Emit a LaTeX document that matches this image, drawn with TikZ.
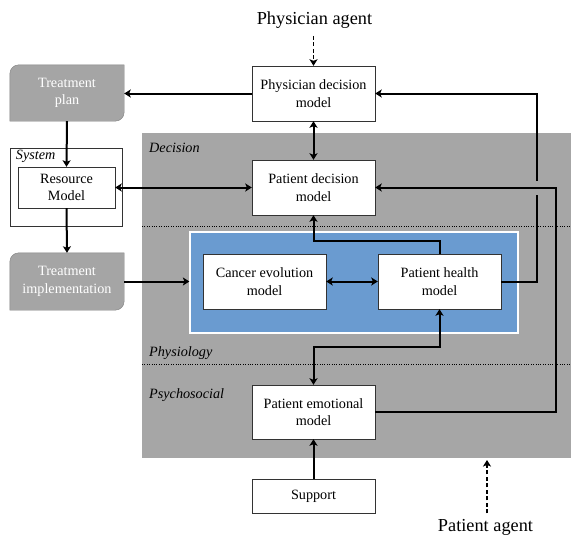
\documentclass[tikz,border=0pt]{standalone}
\usepackage{fontspec}
\setmainfont{Liberation Serif}
\usepackage{xcolor}
\usetikzlibrary{arrows, arrows.meta, positioning, calc, shapes.geometric}

\definecolor{regiongray}{RGB}{166,166,166}
\definecolor{physioblue}{RGB}{106,155,208}
\definecolor{plangray}{RGB}{165,165,165}

\begin{document}
\begin{tikzpicture}[x=1pt, y=-1pt, >={Stealth[length=6.5pt, width=8pt, inset=1.5pt]}]
        \tikzstyle{model} = [rectangle, draw=black!80, fill=white, text centered, align=center, minimum width=123pt, minimum height=55pt, font=\fontsize{14.2}{17.5}\selectfont, inner sep=1pt]
        \tikzstyle{treat} = [rectangle, text=white, text centered, align=center, minimum width=114pt, minimum height=56pt, font=\fontsize{14.2}{17.5}\selectfont, inner sep=1pt]
        \tikzstyle{arrow} = [line width=2pt, ->]
        \tikzstyle{dasharrow} = [line width=1.8pt, ->, dash pattern=on 4pt off 2.5pt]
        \tikzstyle{region} = [font=\itshape\fontsize{14.2}{17}\selectfont, anchor=west, inner sep=0pt]
        \tikzstyle{agent} = [font=\fontsize{18.3}{22}\selectfont]

        \useasboundingbox (0,0) rectangle (571,539);

        % Patient agent background
        \fill[regiongray] (142,133) rectangle (571,458);
        \draw[dotted, thin] (142,226) -- (571,226);
        \draw[dotted, thin] (142,364) -- (571,364);
        \node (decision) [region] at (149,148) {Decision};
        \node (physiology) [region] at (149,353) {Physiology};
        \node (psychosocial) [region] at (149,395) {Psychosocial};

        % Physiology block
        \node (physio) [rectangle, draw=white, line width=1.2pt, fill=physioblue, minimum width=328pt, minimum height=101pt] at (354,282.5) {};
        \node (cancer) [model] at (264.5,281.5) {Cancer evolution\\model};
        \node (health) [model] at (439.5,281.5) {Patient health\\model};

        % Agents
        \node (physagent) [agent] at (314.5,20) {Physician agent};
        \node (patagent) [agent] at (485.5,527) {Patient agent};
        \coordinate (pattip) at (487,460);

        % Decision models
        \node (phys) [model] at (313.5,93.5) {Physician decision\\model};
        \node (pdec) [model] at (313.5,187.5) {Patient decision\\model};
        \node (emot) [model, minimum height=54pt] at (313.5,412) {Patient emotional\\model};
        \node (support) [model, minimum height=34pt] at (313.5,496) {Support};

        % System
        \node (system) [rectangle, draw=black!80, fill=white, minimum width=112pt, minimum height=78pt] at (66,187) {};
        \node [region, anchor=north west] at ([xshift=6pt,yshift=-2pt]system.north west) {System};
        \node (resource) [model, minimum width=97pt, minimum height=41pt] at (66.5,187.5) {Resource\\Model};

        % Treatment boxes
        \node (plan) [treat] at (67,93) {Treatment\\plan};
        \node (impl) [treat, minimum height=57pt] at (67,281.5) {Treatment\\implementation};
        \foreach \tb in {plan, impl} {
            \draw[draw=gray, fill=plangray] (\tb.south west) -- ([yshift=-9pt]\tb.north west) arc[start angle=180, end angle=90, radius=9pt] -- (\tb.north east) -- ([yshift=9pt]\tb.south east) arc[start angle=0, end angle=-90, radius=9pt] -- cycle;
        }
        \node [treat] at (plan) {Treatment\\plan};
        \node [treat, minimum height=57pt] at (impl) {Treatment\\implementation};

        % Arrows
        \draw [dasharrow] ([yshift=-4pt]phys.north |- physagent.south) -- (phys.north);
        \draw [dasharrow] ([yshift=2pt]patagent.north -| pattip) -- (pattip);
        \draw [arrow] (phys.west) -- (plan.east |- phys.west);
        \draw [arrow, <->] (phys) -- (pdec);
        \draw [arrow] (plan.south) -- (resource.north);
        \draw [arrow, <->] (resource.east) -- (pdec.west);
        \draw [arrow] (resource.south) -- (impl.north);
        \draw [arrow] (impl.east) -- (impl.east -| physio.west);
        \draw [arrow, <->] (cancer) -- (health);
        \draw [arrow] (health.north) -- ([yshift=13pt]health.north) -| (pdec.south);
        \draw [arrow, <->] (health.south) -- ([yshift=-38pt]health.south) -| (emot.north);
        \draw [arrow] (health.east) -- ++(36,0) |- (phys.east);
        \coordinate (hop) at (537,188);
        \fill[regiongray] ([xshift=-3pt,yshift=-7pt]hop) rectangle ([xshift=3pt,yshift=7pt]hop);
        \draw [arrow] (emot.east) -- ++(181,0) |- (pdec.east);
        \draw [arrow] (support) -- (emot);
    \end{tikzpicture}
\end{document}
